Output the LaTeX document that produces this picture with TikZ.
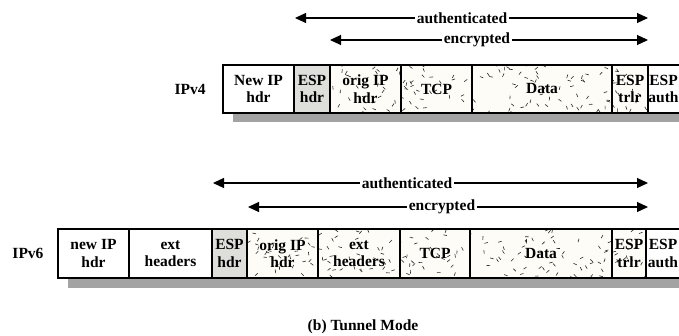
\documentclass[tikz,border=0pt]{standalone}
\usepackage{fontspec}
\setmainfont{Liberation Serif}
\usetikzlibrary{arrows.meta}
\definecolor{cream}{HTML}{FDFCF6}
\definecolor{hdrgray}{HTML}{DEDEDA}
\definecolor{shadowgray}{HTML}{A3A3A3}
\tikzset{
  txt/.style={font=\bfseries\fontsize{15.5}{17.5}\selectfont},
  cell/.style={txt, draw=black, line width=2.2pt, inner sep=0pt, align=center, fill=white},
  graycell/.style={cell, fill=hdrgray},
  speckle/.style={cell, fill=cream, path picture={
      \pgfpointanchor{path picture bounding box}{south west}\pgfgetlastxy{\ax}{\ay}
      \pgfpointanchor{path picture bounding box}{north east}\pgfgetlastxy{\bx}{\by}
      \pgfmathtruncatemacro{\nd}{abs((\bx-\ax)*(\by-\ay))/110}
      \foreach \k in {1,...,\nd}{
        \pgfmathsetmacro{\px}{\ax+rnd*(\bx-\ax)}
        \pgfmathsetmacro{\py}{\ay+rnd*(\by-\ay)}
        \pgfmathsetmacro{\pa}{rnd*360}
        \draw[line width=0.6pt, black!85] (\px pt,\py pt) -- ++(\pa:3.6pt);
      }
  }},
  shadow/.style={fill=shadowgray, draw=none},
  span/.style={line width=1.1pt, {Triangle[length=11pt,width=10pt]}-{Triangle[length=11pt,width=10pt]}},
  spanlbl/.style={txt, fill=white, inner sep=1.5pt},
  rowlbl/.style={txt},
  celltxt/.style={txt, align=center, inner sep=0pt}
}
\begin{document}
\begin{tikzpicture}[x=1pt,y=-1pt]
\pgfmathsetseed{7}
\useasboundingbox (0,0) rectangle (679,336);
\clip (0,0) rectangle (679,336);
\fill[white] (0,0) rectangle (679,336);

% ---------- IPv4 ----------
\node[rowlbl] (l4) at (190,89) {IPv4};
\fill[shadow] (233,73) rectangle (700,122);
\node[cell,     minimum width=71pt, minimum height=48pt] (n4)  at (258.5,89) {New IP\\hdr};
\node[graycell, minimum width=36pt, minimum height=48pt] (e4)  at (312,89)   {ESP\\hdr};
\node[speckle,  minimum width=71pt, minimum height=48pt] (o4)  at (365.5,89) {orig IP\\hdr};
\node[speckle,  minimum width=71pt, minimum height=48pt] (t4)  at (436.5,89) {TCP};
\node[speckle,  minimum width=140pt, minimum height=48pt] (d4) at (542,89)   {Data};
\node[speckle,  minimum width=36pt, minimum height=48pt] (tr4) at (630,89)   {ESP\\trlr};
\node[cell,     minimum width=36pt, minimum height=48pt] (au4) at (666,89)   {};
\node[celltxt] (au4t) at ([xshift=-2.5pt]au4.center) {ESP\\auth};

\coordinate (a4l) at (295,18);
\coordinate (a4r) at (648,18);
\coordinate (c4l) at (330,40);
\coordinate (c4r) at (648,40);
\draw[span] (a4l) -- node[spanlbl, pos=0.473] (a4t) {authenticated} (a4r);
\draw[span] (c4l) -- node[spanlbl, pos=0.462] (c4t) {encrypted} (c4r);

% ---------- IPv6 ----------
\node[rowlbl] (l6) at (28,253.5) {IPv6};
\fill[shadow] (68,237) rectangle (700,288);
\node[cell,     minimum width=71pt, minimum height=49pt] (n6)  at (93.5,253.5)  {new IP\\hdr};
\node[cell,     minimum width=83pt, minimum height=49pt] (x6)  at (170.5,253.5) {ext\\headers};
\node[graycell, minimum width=35pt, minimum height=49pt] (e6)  at (229.5,253.5) {ESP\\hdr};
\node[speckle,  minimum width=71pt, minimum height=49pt] (o6)  at (282.5,253.5) {orig IP\\hdr};
\node[speckle,  minimum width=82pt, minimum height=49pt] (y6)  at (359,253.5)   {ext\\headers};
\node[speckle,  minimum width=70pt, minimum height=49pt] (t6)  at (435,253.5)   {TCP};
\node[speckle,  minimum width=142pt, minimum height=49pt] (d6) at (541,253.5)   {Data};
\node[speckle,  minimum width=34pt, minimum height=49pt] (tr6) at (629,253.5)   {ESP\\trlr};
\node[cell,     minimum width=38pt, minimum height=49pt] (au6) at (665,253.5)   {};
\node[celltxt] (au6t) at ([xshift=-2pt]au6.center) {ESP\\auth};

\coordinate (a6l) at (213,183);
\coordinate (a6r) at (648,183);
\coordinate (c6l) at (248,207);
\coordinate (c6r) at (648,207);
\draw[span] (a6l) -- node[spanlbl, pos=0.446] (a6t) {authenticated} (a6r);
\draw[span] (c6l) -- node[spanlbl, pos=0.485] (c6t) {encrypted} (c6r);

\node[txt] (cap) at (363,327) {(b) Tunnel Mode};
\end{tikzpicture}
\end{document}
